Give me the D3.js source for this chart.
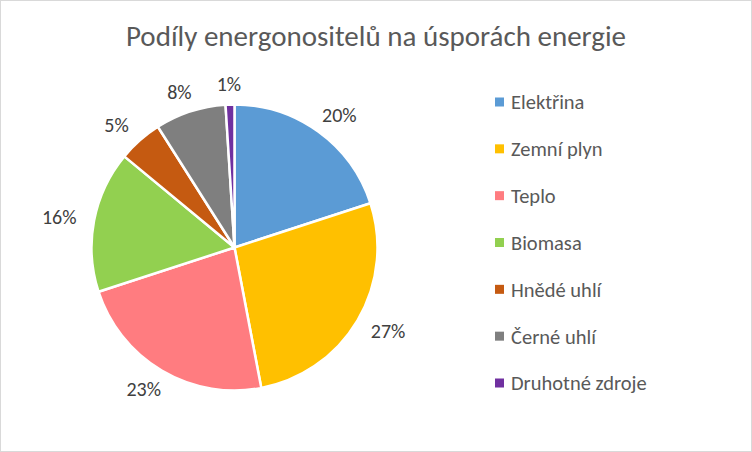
<!DOCTYPE html>
<html><head><meta charset="utf-8">
<script src="https://cdn.jsdelivr.net/npm/d3@7"></script>
<style>body{margin:0;background:#fff;}svg{display:block;font-family:Carlito,Calibri,Lato,"Open Sans",sans-serif;}</style>
</head><body>
<svg id="c" width="752" height="452"></svg>
<script>
const categories = ["Elektřina","Zemní plyn","Teplo","Biomasa","Hnědé uhlí","Černé uhlí","Druhotné zdroje"];
const values = [20,27,23,16,5,8,1];
const colors = ["#5B9BD5","#FFC000","#FF7C80","#92D050","#C55A11","#7F7F7F","#7030A0"];
const title = "Podíly energonositelů na úsporách energie";

const svg = d3.select("#c");
svg.append("rect").attr("x",0.5).attr("y",0.5).attr("width",751).attr("height",451)
  .attr("fill","#fff").attr("stroke","#D9D9D9");

svg.append("text").attr("x",376).attr("y",46).attr("text-anchor","middle")
  .attr("font-size",29).attr("fill","#595959").text(title);

const cx=234.5, cy=247.5, r=143;
const data = categories.map((c,i)=>({c,v:values[i],col:colors[i]}));
const pie = d3.pie().value(d=>d.v).sort(null);
const arc = d3.arc().innerRadius(0).outerRadius(r);
const arcs = pie(data);
const g = svg.append("g").attr("transform",`translate(${cx},${cy})`);
g.selectAll("path").data(arcs).join("path").attr("d",arc)
  .attr("fill",d=>d.data.col).attr("stroke","#fff").attr("stroke-width",2.5).attr("stroke-linejoin","round");

const total = d3.sum(values);
const fmt = d=>Math.round(d.data.v/total*100)+"%";
const lw=36, lh=18, gap=12;
g.selectAll("text.lab").data(arcs).join("text").attr("class","lab")
  .attr("x",d=>{const a=(d.startAngle+d.endAngle)/2;const s=Math.sin(a);return s*(r+gap)+s*lw/2*1.3;})
  .attr("y",d=>{const a=(d.startAngle+d.endAngle)/2;const c=-Math.cos(a);return c*(r+gap)+c*lh/2;})
  .attr("dy","0.36em").attr("text-anchor","middle").attr("font-size",20).attr("fill","#404040")
  .text(fmt);

const leg = svg.append("g");
const ly = d3.scalePoint().domain(categories).range([102,383]);
categories.forEach((c,i)=>{
  leg.append("rect").attr("x",495).attr("y",ly(c)-4.5).attr("width",9).attr("height",9).attr("fill",colors[i]);
  leg.append("text").attr("x",511).attr("y",ly(c)).attr("dy","0.36em").attr("font-size",20.5).attr("fill","#595959").text(c);
});
</script>
</body></html>
